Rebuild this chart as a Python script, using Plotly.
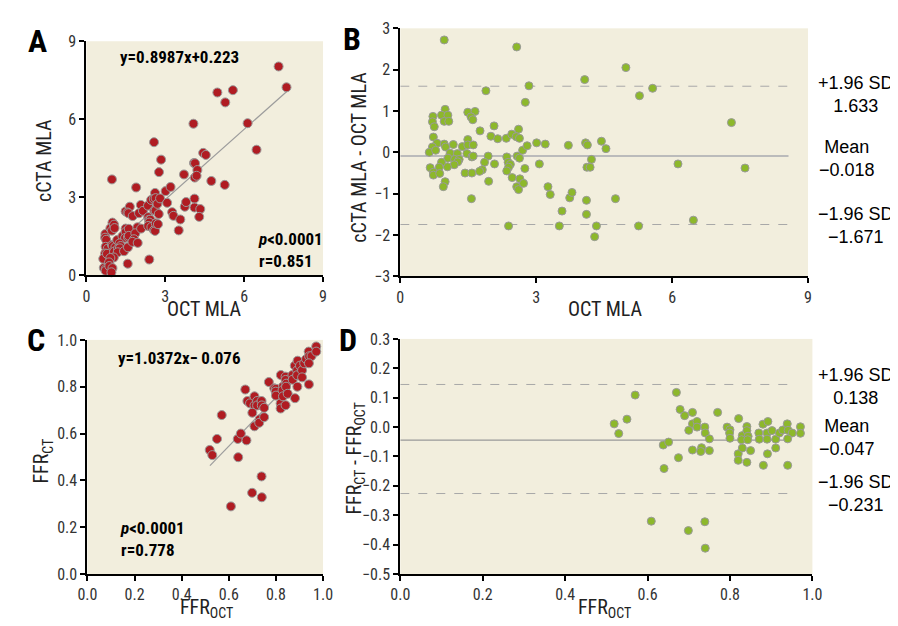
import plotly.graph_objects as go

W, H = 898, 626

# ---------------- Panel A / B : MLA ----------------
oct_mla = [0.97, 2.57, 4.98, 4.07, 2.84, 5.57, 1.89, 5.28, 2.76, 0.99,
           0.72, 0.91, 1.05, 0.71, 0.97, 1.07, 0.75, 1.49, 1.65, 1.56,
           1.60, 1.76, 2.07, 2.61, 2.00, 2.15, 2.34, 2.46, 2.56, 2.63,
           7.31, 0.73, 0.81, 0.71, 0.64, 0.78, 0.97, 1.00, 1.10, 1.17,
           1.37, 1.49, 1.49, 1.61, 1.47, 1.58, 1.61, 1.26, 1.05, 1.20,
           1.30, 1.27, 1.19, 1.04, 0.91, 0.66, 0.86, 0.73, 0.73, 0.87,
           0.99, 0.95, 1.43, 1.58, 1.57, 1.94, 1.86, 1.81, 1.75, 2.08,
           1.95, 2.35, 2.38, 2.43, 2.39, 2.35, 2.47, 2.57, 2.61, 2.64,
           2.72, 2.58, 2.63, 2.70, 2.80, 2.75, 3.01, 3.07, 3.20, 3.26,
           3.31, 3.71, 3.57, 3.74, 3.79, 2.39, 3.51, 4.09, 4.13, 4.22,
           4.12, 4.19, 4.11, 4.11, 4.33, 4.29, 4.44, 4.54, 4.75, 5.26,
           6.13, 6.47, 7.61]

cta_mla = [3.69, 5.12, 7.03, 5.83, 4.45, 7.12, 3.38, 6.65, 3.97, 2.03,
           1.59, 1.81, 1.95, 1.45, 1.72, 1.82, 1.37, 2.46, 2.64, 2.42,
           2.39, 2.28, 2.71, 3.17, 2.39, 2.48, 2.68, 2.90, 2.94, 2.97,
           8.03, 1.10, 1.03, 0.84, 0.64, 0.83, 1.17, 1.13, 1.08, 1.36,
           1.51, 1.80, 1.67, 1.79, 1.44, 1.47, 1.52, 1.23, 0.91, 1.03,
           1.13, 1.04, 0.89, 0.69, 0.67, 0.29, 0.50, 0.25, 0.18, 0.36,
           0.28, 0.12, 0.93, 1.08, 0.45, 1.85, 1.62, 1.39, 1.29, 1.80,
           1.25, 2.24, 2.14, 2.14, 2.03, 1.90, 1.86, 1.74, 1.71, 2.00,
           1.97, 2.49, 2.49, 2.75, 2.96, 2.36, 3.24, 2.79, 3.40, 2.43,
           2.29, 3.88, 2.15, 2.64, 2.82, 0.61, 1.73, 4.32, 4.31, 4.05,
           3.76, 3.83, 2.95, 2.61, 2.55, 2.25, 4.71, 4.63, 3.63, 3.48,
           5.85, 4.83, 7.23]

mla_diff = [2.72, 2.55, 2.05, 1.76, 1.61, 1.55, 1.49, 1.37, 1.21, 1.04,
            0.87, 0.90, 0.90, 0.74, 0.75, 0.75, 0.62, 0.97, 0.99, 0.86,
            0.79, 0.52, 0.64, 0.56, 0.39, 0.33, 0.34, 0.44, 0.38, 0.34,
            0.72, 0.37, 0.22, 0.13, 0.00, 0.05, 0.20, 0.13, -0.02, 0.19,
            0.14, 0.31, 0.18, 0.18, -0.03, -0.11, -0.09, -0.03, -0.14, -0.17,
            -0.17, -0.23, -0.30, -0.35, -0.24, -0.37, -0.36, -0.48, -0.55, -0.51,
            -0.71, -0.83, -0.50, -0.50, -1.12, -0.09, -0.24, -0.42, -0.46, -0.28,
            -0.70, -0.11, -0.24, -0.29, -0.36, -0.45, -0.61, -0.83, -0.90, -0.64,
            -0.75, -0.09, -0.14, 0.05, 0.16, -0.39, 0.23, -0.28, 0.20, -0.83,
            -1.02, 0.17, -1.42, -1.10, -0.97, -1.78, -1.78, 0.23, 0.18, -0.17,
            -0.36, -0.36, -1.16, -1.50, -1.78, -2.04, 0.27, 0.09, -1.12, -1.78,
            -0.28, -1.64, -0.38]

reg_a_slope, reg_a_icpt = 0.8987, 0.223
reg_a_x = [0.85, 7.62]
ba_mla_levels = [1.60, -0.09, -1.745]      # +1.96 SD, mean, -1.96 SD (as drawn)
ba_mla_x = [0, 8.57]
ba_mla_labels = [("+1.96 SD", "1.633"), ("Mean", "\u22120.018"), ("\u22121.96 SD", "\u22121.671")]

# ---------------- Panel C / D : FFR ----------------
ffr_oct = [0.519, 0.530, 0.550, 0.570, 0.670, 0.679, 0.690, 0.709, 0.709, 0.720,
           0.720, 0.700, 0.739, 0.740, 0.750, 0.770, 0.793, 0.800, 0.799, 0.800,
           0.821, 0.830, 0.841, 0.841, 0.844, 0.828, 0.843, 0.870, 0.871, 0.880,
           0.892, 0.890, 0.890, 0.902, 0.911, 0.920, 0.928, 0.939, 0.941, 0.951,
           0.940, 0.971, 0.971, 0.638, 0.651, 0.640, 0.675, 0.709, 0.731, 0.729,
           0.750, 0.820, 0.820, 0.841, 0.830, 0.850, 0.891, 0.911, 0.881, 0.940,
           0.609, 0.699, 0.739, 0.740]

ffr_ct = [0.530, 0.508, 0.577, 0.679, 0.788, 0.739, 0.729, 0.759, 0.720, 0.739,
          0.720, 0.689, 0.739, 0.720, 0.710, 0.820, 0.793, 0.791, 0.779, 0.762,
          0.850, 0.801, 0.843, 0.829, 0.813, 0.785, 0.800, 0.850, 0.830, 0.890,
          0.911, 0.870, 0.849, 0.890, 0.870, 0.900, 0.918, 0.950, 0.930, 0.931,
          0.900, 0.972, 0.950, 0.577, 0.600, 0.499, 0.571, 0.631, 0.661, 0.646,
          0.670, 0.729, 0.707, 0.721, 0.759, 0.770, 0.800, 0.840, 0.751, 0.810,
          0.289, 0.347, 0.417, 0.328]

ffr_diff = [0.011, -0.022, 0.027, 0.109, 0.118, 0.060, 0.039, 0.050, 0.011, 0.019,
            0.000, -0.011, 0.000, -0.020, -0.040, 0.050, 0.000, -0.009, -0.020, -0.038,
            0.029, -0.029, 0.002, -0.012, -0.031, -0.043, -0.043, -0.020, -0.041, 0.010,
            0.019, -0.020, -0.041, -0.012, -0.041, -0.020, -0.010, 0.011, -0.011, -0.020,
            -0.040, 0.001, -0.021, -0.061, -0.051, -0.141, -0.104, -0.078, -0.070, -0.083,
            -0.080, -0.091, -0.113, -0.120, -0.071, -0.080, -0.091, -0.071, -0.130, -0.130,
            -0.320, -0.352, -0.322, -0.412]

reg_c_slope, reg_c_icpt = 1.0372, -0.076
reg_c_x = [0.52, 0.97]
ba_ffr_levels = [0.145, -0.044, -0.226]
ba_ffr_x = [0, 0.94]
ba_ffr_labels = [("+1.96 SD", "0.138"), ("Mean", "\u22120.047"), ("\u22121.96 SD", "\u22120.231")]

# ---------------- styling ----------------
NARROW = "Roboto Condensed, Liberation Sans Narrow, Arial Narrow, Liberation Sans, Arial, sans-serif"
REG = "Liberation Sans, Arial, sans-serif"
BG = "#F2EEDD"
RED = "#B01C22"
GREEN = "#8DB82B"
EDGE = "#9A9A9A"
TICKC = "#333333"


def xd(a, b):
    return [a / W, b / W]


def yd(top, bottom):
    return [1 - bottom / H, 1 - top / H]


def px(x):
    return x / W


def py(y):
    return 1 - y / H


fig = go.Figure()

# Panel A
fig.add_trace(go.Scatter(x=reg_a_x, y=[reg_a_slope * v + reg_a_icpt for v in reg_a_x],
                         mode="lines", line=dict(color="#9C9C9C", width=1.2),
                         xaxis="x", yaxis="y", hoverinfo="skip"))
fig.add_trace(go.Scatter(x=oct_mla, y=cta_mla, mode="markers",
                         marker=dict(color=RED, size=9, line=dict(color=EDGE, width=1)),
                         xaxis="x", yaxis="y", cliponaxis=False))

# Panel B
for i, lv in enumerate(ba_mla_levels):
    fig.add_trace(go.Scatter(x=ba_mla_x, y=[lv, lv], mode="lines",
                             line=dict(color="#BBBBBB" if i == 1 else "#A8A8A8",
                                       width=2 if i == 1 else 1,
                                       dash="solid" if i == 1 else "dash"),
                             xaxis="x2", yaxis="y2", hoverinfo="skip"))
fig.add_trace(go.Scatter(x=oct_mla, y=mla_diff, mode="markers",
                         marker=dict(color=GREEN, size=8, line=dict(color=EDGE, width=1)),
                         xaxis="x2", yaxis="y2", cliponaxis=False))

# Panel C
fig.add_trace(go.Scatter(x=reg_c_x, y=[reg_c_slope * v + reg_c_icpt for v in reg_c_x],
                         mode="lines", line=dict(color="#9C9C9C", width=1.2),
                         xaxis="x3", yaxis="y3", hoverinfo="skip"))
fig.add_trace(go.Scatter(x=ffr_oct, y=ffr_ct, mode="markers",
                         marker=dict(color=RED, size=9, line=dict(color=EDGE, width=1)),
                         xaxis="x3", yaxis="y3", cliponaxis=False))

# Panel D
for i, lv in enumerate(ba_ffr_levels):
    fig.add_trace(go.Scatter(x=ba_ffr_x, y=[lv, lv], mode="lines",
                             line=dict(color="#999999" if i == 1 else "#A8A8A8",
                                       width=1.2 if i == 1 else 1,
                                       dash="solid" if i == 1 else "dash"),
                             xaxis="x4", yaxis="y4", hoverinfo="skip"))
fig.add_trace(go.Scatter(x=ffr_oct, y=ffr_diff, mode="markers",
                         marker=dict(color=GREEN, size=8, line=dict(color=EDGE, width=1)),
                         xaxis="x4", yaxis="y4", cliponaxis=False))

axis_common = dict(showline=True, linecolor="black", linewidth=2, ticks="outside",
                   ticklen=5, tickwidth=1.5, tickcolor="black", showgrid=False,
                   zeroline=False, fixedrange=True,
                   tickfont=dict(family=NARROW, size=16, color=TICKC))

fig.update_layout(
    width=W, height=H, autosize=False,
    margin=dict(l=0, r=0, t=0, b=0),
    paper_bgcolor="white", plot_bgcolor=BG, showlegend=False,
    xaxis=dict(axis_common, domain=xd(70, 312), range=[0, 9], tickvals=[0, 3, 6, 9], anchor="y"),
    yaxis=dict(axis_common, domain=yd(25, 266.5), range=[0, 9], tickvals=[0, 3, 6, 9], anchor="x"),
    xaxis2=dict(axis_common, domain=xd(391, 808), range=[0, 9], tickvals=[0, 3, 6, 9], anchor="y2"),
    yaxis2=dict(axis_common, domain=yd(11.7, 267.5), range=[-3, 3], tickvals=[-3, -2, -1, 0, 1, 2, 3], anchor="x2"),
    xaxis3=dict(axis_common, domain=xd(71, 312), range=[0, 1], tickvals=[0, 0.2, 0.4, 0.6, 0.8, 1.0],
                tickformat=".1f", anchor="y3"),
    yaxis3=dict(axis_common, domain=yd(333, 574.5), range=[0, 1], tickvals=[0, 0.2, 0.4, 0.6, 0.8, 1.0],
                tickformat=".1f", anchor="x3"),
    xaxis4=dict(axis_common, domain=xd(391, 812.5), range=[0, 1], tickvals=[0, 0.2, 0.4, 0.6, 0.8, 1.0],
                tickformat=".1f", anchor="y4"),
    yaxis4=dict(axis_common, domain=yd(332, 574.5), range=[-0.5, 0.3],
                tickvals=[-0.5, -0.4, -0.3, -0.2, -0.1, 0.0, 0.1, 0.2, 0.3], tickformat=".1f", anchor="x4"),
)

ann = []


def add_text(text, x, y, size, family=NARROW, bold=False, xanchor="center", angle=0,
             color="black", align="center"):
    if bold:
        text = "<b>" + text + "</b>"
    ann.append(dict(text=text, x=px(x), y=py(y), xref="paper", yref="paper",
                    xanchor=xanchor, yanchor="middle", showarrow=False, textangle=angle,
                    align=align, font=dict(family=family, size=size, color=color)))


# Panel letters
add_text("A", 20, 25, 32, bold=True)
add_text("B", 342, 23, 32, bold=True)
add_text("C", 18, 333, 32, bold=True)
add_text("D", 338, 333, 32, bold=True)

# Axis titles
add_text("cCTA MLA", 26, 148, 20, angle=-90, color="#222")
add_text("OCT MLA", 190, 301, 20, color="#222")
add_text("cCTA MLA - OCT MLA", 348, 145, 20, angle=-90, color="#222")
add_text("OCT MLA", 600, 301, 20, color="#222")
add_text("FFR<sub>CT</sub>", 25, 458, 20, angle=-90, color="#222")
add_text("FFR<sub>OCT</sub>", 193, 610, 20, color="#222")
add_text("FFR<sub>CT</sub> - FFR<sub>OCT</sub>", 345, 455, 20, angle=-90, color="#222")
add_text("FFR<sub>OCT</sub>", 600, 610, 20, color="#222")

# Regression annotations
add_text("y=0.8987x+0.223", 165, 41, 17, bold=True)
add_text("<i>p</i><0.0001<br>r=0.851", 243, 240, 17, bold=True, xanchor="left", align="left")
add_text("y=1.0372x\u2212\u20090.076", 165, 352, 17, bold=True)
add_text("<i>p</i><0.0001<br>r=0.778", 102, 538, 17, bold=True, xanchor="left", align="left")

# Bland-Altman labels (label and value stacked)
b_label = [(857, 80), (848, 146), (857, 215)]
for (l1, l2), (x, y) in zip(ba_mla_labels, b_label):
    add_text(l1 + "<br>" + l2, x, y, 18, family=REG)
d_label = [(857, 381), (848, 434), (857, 491)]
for (l1, l2), (x, y) in zip(ba_ffr_labels, d_label):
    add_text(l1 + "<br>" + l2, x, y, 18, family=REG)

fig.update_layout(annotations=ann)
fig.write_html("out.html")
